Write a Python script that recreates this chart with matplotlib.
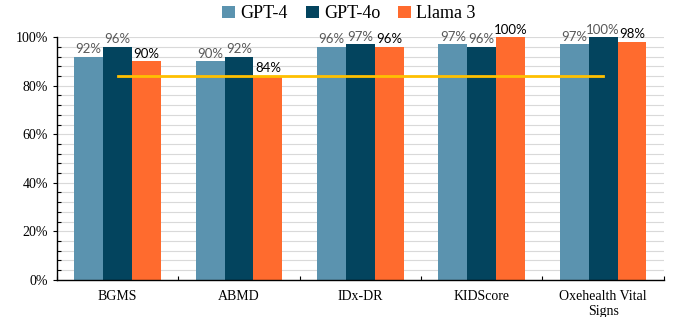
import matplotlib
matplotlib.use("Agg")
import matplotlib.pyplot as plt
import numpy as np
from matplotlib.ticker import MultipleLocator, PercentFormatter

categories = ["BGMS", "ABMD", "IDx-DR", "KIDScore", "Oxehealth Vital\nSigns"]
series_names = ["GPT-4", "GPT-4o", "Llama 3"]
gpt4 = [92, 90, 96, 97, 97]
gpt4o = [96, 92, 97, 96, 100]
llama3 = [90, 84, 96, 100, 98]
threshold = [84, 84, 84, 84, 84]

colors = ["#5B93AF", "#03445E", "#FF6B2E"]
label_colors = ["#595959", "#595959", "#000000"]

fig = plt.figure(figsize=(6.78, 3.17), dpi=100)
ax = fig.add_axes([0.084, 0.117, 0.895, 0.766])

x = np.arange(len(categories))
w = 0.238
serif = "Liberation Serif"
for i, (vals, c, lc) in enumerate(zip([gpt4, gpt4o, llama3], colors, label_colors)):
    pos = x + (i - 1) * w
    ax.bar(pos, np.array(vals) / 100, width=w, color=c, label=series_names[i], zorder=2)
    for p, v in zip(pos, vals):
        ax.text(p, v / 100 + 0.006, f"{v}%", ha="center", va="bottom",
                fontsize=9.5, color=lc, family="Lato", zorder=4)

ax.plot(x, np.array(threshold) / 100, color="#FFC000", lw=2, zorder=3)

ax.set_xlim(-0.5, len(categories) - 0.5)
ax.set_ylim(0, 1.0)
ax.yaxis.set_major_locator(MultipleLocator(0.2))
ax.yaxis.set_minor_locator(MultipleLocator(0.04))
ax.yaxis.set_major_formatter(PercentFormatter(1.0, decimals=0))
ax.grid(axis="y", which="both", color="#D9D9D9", lw=0.8, zorder=0)
ax.set_axisbelow(True)

ax.set_xticks(x)
ax.set_xticklabels(categories, family=serif, fontsize=10)
ax.set_xticks(np.arange(-0.5, len(categories), 1.0), minor=True)
ax.tick_params(axis="x", which="both", direction="in", length=3, width=0.8, color="black")
ax.tick_params(axis="x", which="major", pad=7)
ax.tick_params(axis="y", which="major", direction="out", length=3, width=0.8)
ax.tick_params(axis="y", which="minor", direction="in", length=3, width=0.8)
for lbl in ax.get_yticklabels():
    lbl.set_family(serif)
    lbl.set_fontsize(10)

for s in ["top", "right"]:
    ax.spines[s].set_visible(False)
for s in ["left", "bottom"]:
    ax.spines[s].set_linewidth(1.0)
    ax.spines[s].set_color("black")

fig.legend(loc="upper center", bbox_to_anchor=(0.515, 1.035), ncol=3, frameon=False,
           prop={"family": serif, "size": 13}, handlelength=0.7, handleheight=0.7,
           handletextpad=0.3, columnspacing=1.0)

fig.savefig("out.png", dpi=100)
